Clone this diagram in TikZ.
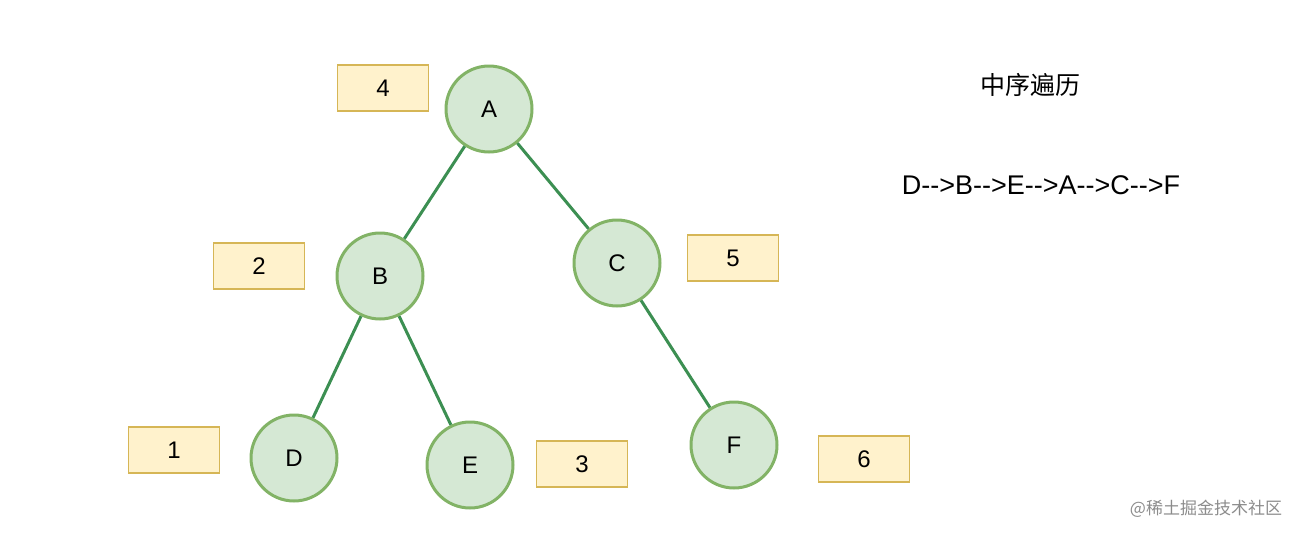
\documentclass[tikz,border=0pt]{standalone}
\usepackage{fontspec}
\setmainfont{Liberation Sans}
\newfontfamily\cjk{Noto Sans CJK SC}
\definecolor{nodefill}{HTML}{D5E8D4}
\definecolor{nodeline}{HTML}{82B366}
\definecolor{boxfill}{HTML}{FFF2CC}
\definecolor{boxline}{HTML}{D6B656}
\definecolor{edgecol}{HTML}{3C8F52}
\begin{document}
\begin{tikzpicture}[x=1pt,y=-1pt,
  treenode/.style={circle,draw=nodeline,fill=nodefill,line width=3pt,minimum size=86pt,inner sep=0pt,font=\fontsize{24}{28}\selectfont},
  orderbox/.style={rectangle,draw=boxline,fill=boxfill,line width=1.5pt,minimum width=91pt,minimum height=46pt,inner sep=0pt,font=\fontsize{24}{28}\selectfont},
  edge/.style={draw=edgecol,line width=3pt}]
\useasboundingbox (0,0) rectangle (1304,536);
\node[treenode] (A) at (489,109) {A};
\node[treenode] (B) at (380,276) {B};
\node[treenode] (C) at (617,263) {C};
\node[treenode] (D) at (294,458) {D};
\node[treenode] (E) at (470,465) {E};
\node[treenode] (F) at (734,445) {F};
\draw[edge] (A) -- (B);
\draw[edge] (A) -- (C);
\draw[edge] (B) -- (D);
\draw[edge] (B) -- (E);
\draw[edge] (C) -- (F);
\node[orderbox] (b4) at (383,88) {4};
\node[orderbox] (b2) at (259,266) {2};
\node[orderbox] (b5) at (733,258) {5};
\node[orderbox] (b1) at (174,450) {1};
\node[orderbox] (b3) at (582,464) {3};
\node[orderbox] (b6) at (864,459) {6};
\node[font=\cjk\fontsize{25}{29}\selectfont] (title) at (1030,85) {中序遍历};
\node[font=\fontsize{27}{31}\selectfont] (order) at (1041,185) {D{-}{-}>B{-}{-}>E{-}{-}>A{-}{-}>C{-}{-}>F};
\node[font=\cjk\fontsize{17}{20}\selectfont,text=black!45] (wm) at (1206,509) {@稀土掘金技术社区};
\end{tikzpicture}
\end{document}
